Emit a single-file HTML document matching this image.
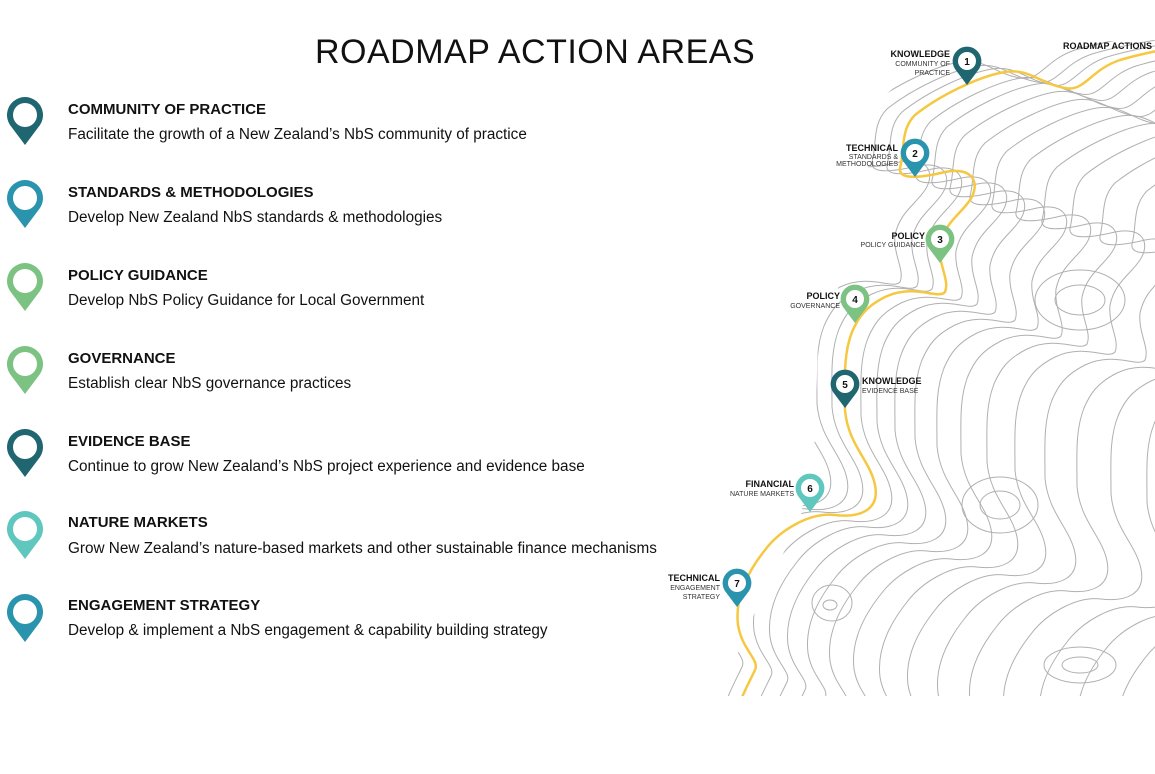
<!DOCTYPE html>
<html style="overflow:hidden"><head><meta charset="utf-8"><style>
html,body{margin:0;background:#fff;width:1155px;height:774px;overflow:hidden}
body{position:relative;font-family:"Liberation Sans",Arial,sans-serif}
.t{position:absolute;left:315px;top:33px;font-size:34px;letter-spacing:0.5px;color:#111;font-weight:normal;white-space:nowrap}
.h{position:absolute;left:68px;font-size:15px;font-weight:bold;letter-spacing:0;color:#111;white-space:nowrap}
.d{position:absolute;left:68px;font-size:15.3px;color:#111;white-space:nowrap}
svg{display:block}
</style></head><body>
<div class="t">ROADMAP ACTION AREAS</div>
<div class="h" style="top:101px">COMMUNITY OF PRACTICE</div><div class="d" style="top:126px">Facilitate the growth of a New Zealand’s NbS community of practice</div>
<div class="h" style="top:184px">STANDARDS &amp; METHODOLOGIES</div><div class="d" style="top:209px">Develop New Zealand NbS standards &amp; methodologies</div>
<div class="h" style="top:267px">POLICY GUIDANCE</div><div class="d" style="top:292px">Develop NbS Policy Guidance for Local Government</div>
<div class="h" style="top:350px">GOVERNANCE</div><div class="d" style="top:375px">Establish clear NbS governance practices</div>
<div class="h" style="top:433px">EVIDENCE BASE</div><div class="d" style="top:458px">Continue to grow New Zealand’s NbS project experience and evidence base</div>
<div class="h" style="top:514px">NATURE MARKETS</div><div class="d" style="top:540px">Grow New Zealand’s nature-based markets and other sustainable finance mechanisms</div>
<div class="h" style="top:597px">ENGAGEMENT STRATEGY</div><div class="d" style="top:622px">Develop &amp; implement a NbS engagement &amp; capability building strategy</div>
<svg width="1155" height="774" style="position:absolute;left:0;top:0" xmlns="http://www.w3.org/2000/svg">
<defs>
<path id="pin" d="M0,0 L-15,-20 A18,18 0 1 1 15,-20 Z"/>
<path id="road" d="M1320,20 C1200,45 1160,48 1120,60 C1090,70 1085,92 1065,88 C1040,84 1030,68 1005,72 C980,76 940,95 915,115 C900,130 905,150 900,168 C898,180 920,178 945,172 C975,166 980,185 970,200 C960,215 945,222 940,245 C938,265 950,280 945,292 C938,300 915,283 885,297 C865,307 858,318 852,332 C843,355 845,380 845,410 C848,445 870,460 875,485 C880,510 860,518 835,515 C810,512 780,530 765,550 C745,575 735,600 738,625 C742,650 760,660 755,670 C748,685 738,700 720,760"/>
<clipPath id="cp"><polygon points="720,696 760,600 800,520 815,440 818,340 845,270 870,230 868,160 880,100 930,55 990,44 1155,40 1155,696"/></clipPath>
<clipPath id="cy"><rect x="700" y="30" width="455" height="666"/></clipPath>
</defs>
<g clip-path="url(#cp)" fill="none" stroke="#b0b0b0" stroke-width="1">
<use href="#road" transform="translate(-45,-10)"/>
<use href="#road" transform="translate(-28,-6)"/>
<use href="#road" transform="translate(-13,-3)"/>
<use href="#road" transform="translate(16,6)"/>
<use href="#road" transform="translate(32,12)"/>
<use href="#road" transform="translate(50,20)"/>
<use href="#road" transform="translate(70,28)"/>
<use href="#road" transform="translate(92,36)"/>
<use href="#road" transform="translate(116,44)"/>
<use href="#road" transform="translate(142,52)"/>
<use href="#road" transform="translate(170,60)"/>
<use href="#road" transform="translate(200,68)"/>
<use href="#road" transform="translate(232,76)"/>
<use href="#road" transform="translate(266,84)"/>
<use href="#road" transform="translate(302,92)"/>
<use href="#road" transform="translate(340,100)"/>
<use href="#road" transform="translate(380,108)"/>
<ellipse cx="830" cy="605" rx="7" ry="5"/><ellipse cx="832" cy="603" rx="20" ry="18"/>
<ellipse cx="1000" cy="505" rx="20" ry="14"/><ellipse cx="1000" cy="505" rx="38" ry="28"/>
<ellipse cx="1080" cy="300" rx="25" ry="15"/><ellipse cx="1080" cy="300" rx="45" ry="30"/>
<ellipse cx="1080" cy="665" rx="18" ry="8"/><ellipse cx="1080" cy="665" rx="36" ry="18"/>
</g>
<use href="#road" clip-path="url(#cy)" fill="none" stroke="#f6c842" stroke-width="2.5"/>
<g>
<use href="#pin" transform="translate(25,145)" fill="#1f6670"/><circle cx="25" cy="115" r="12" fill="#fff"/>
<use href="#pin" transform="translate(25,228)" fill="#2a93ad"/><circle cx="25" cy="198" r="12" fill="#fff"/>
<use href="#pin" transform="translate(25,311)" fill="#7cc283"/><circle cx="25" cy="281" r="12" fill="#fff"/>
<use href="#pin" transform="translate(25,394)" fill="#7cc283"/><circle cx="25" cy="364" r="12" fill="#fff"/>
<use href="#pin" transform="translate(25,477)" fill="#1f6670"/><circle cx="25" cy="447" r="12" fill="#fff"/>
<use href="#pin" transform="translate(25,559)" fill="#5fc7be"/><circle cx="25" cy="529" r="12" fill="#fff"/>
<use href="#pin" transform="translate(25,642)" fill="#2a93ad"/><circle cx="25" cy="612" r="12" fill="#fff"/>
</g>
<g font-family="Liberation Sans,Arial,sans-serif" font-size="10" font-weight="bold" text-anchor="middle" fill="#111">
<use href="#pin" transform="translate(967,85) scale(0.8)" fill="#1f6670"/><circle cx="967" cy="61" r="9" fill="#fff"/><text x="967" y="65">1</text>
<use href="#pin" transform="translate(915,177) scale(0.8)" fill="#2a93ad"/><circle cx="915" cy="153" r="9" fill="#fff"/><text x="915" y="157">2</text>
<use href="#pin" transform="translate(940,263) scale(0.8)" fill="#7cc283"/><circle cx="940" cy="239" r="9" fill="#fff"/><text x="940" y="243">3</text>
<use href="#pin" transform="translate(855,323) scale(0.8)" fill="#7cc283"/><circle cx="855" cy="299" r="9" fill="#fff"/><text x="855" y="303">4</text>
<use href="#pin" transform="translate(845,408) scale(0.8)" fill="#1f6670"/><circle cx="845" cy="384" r="9" fill="#fff"/><text x="845" y="388">5</text>
<use href="#pin" transform="translate(810,512) scale(0.8)" fill="#5fc7be"/><circle cx="810" cy="488" r="9" fill="#fff"/><text x="810" y="492">6</text>
<use href="#pin" transform="translate(737,607) scale(0.8)" fill="#2a93ad"/><circle cx="737" cy="583" r="9" fill="#fff"/><text x="737" y="587">7</text>
</g>
<g font-family="Liberation Sans,Arial,sans-serif" fill="#111" text-anchor="end">
<g font-size="9" font-weight="bold">
<text x="1152" y="49">ROADMAP ACTIONS</text>
<text x="950" y="57">KNOWLEDGE</text>
<text x="898" y="151">TECHNICAL</text>
<text x="925" y="239">POLICY</text>
<text x="840" y="299">POLICY</text>
<text x="794" y="487">FINANCIAL</text>
<text x="720" y="581">TECHNICAL</text>
<text x="862" y="384" text-anchor="start">KNOWLEDGE</text>
</g>
<g font-size="7" fill="#333">
<text x="950" y="66">COMMUNITY OF</text><text x="950" y="75">PRACTICE</text>
<text x="898" y="159">STANDARDS &amp;</text><text x="898" y="166">METHODOLOGIES</text>
<text x="925" y="247">POLICY GUIDANCE</text>
<text x="840" y="308">GOVERNANCE</text>
<text x="794" y="496">NATURE MARKETS</text>
<text x="720" y="590">ENGAGEMENT</text><text x="720" y="599">STRATEGY</text>
<text x="862" y="393" text-anchor="start">EVIDENCE BASE</text>
</g>
</g>
</svg>
</body></html>
